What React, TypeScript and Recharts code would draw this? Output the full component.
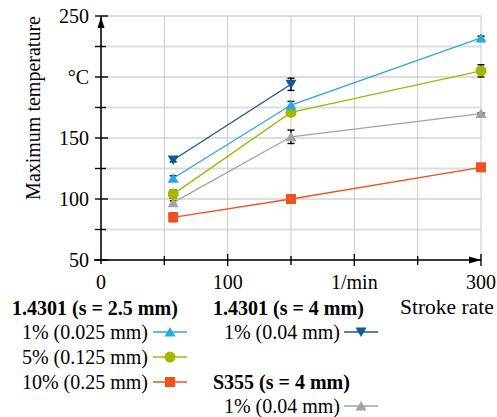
import React from "react";
import { LineChart, Line, XAxis, YAxis, CartesianGrid, ErrorBar, Label } from "recharts";

// ---- data ----
const strokeRates = [57, 150, 300];
const strokeRatesThick = [57, 150];

const s25_1pct = [117, 177, 232];
const s25_1pctErr = [2, 3, 1.5];
const s25_5pct = [104, 171, 205];
const s25_5pctErr = [3.5, 2.5, 5];
const s25_10pct = [85, 100, 126];
const s25_10pctErr = [3.5, 3, 1];
const s4_1pct = [132, 194];
const s4_1pctErr = [1.5, 5];
const s355_1pct = [97, 151, 170];
const s355_1pctErr = [1.5, 5.5, 0.5];

const xTicks = [0, 50, 100, 150, 200, 250, 300];
const xTickLabels: Record<number, string> = { 0: "0", 100: "100", 200: "1/min", 300: "300" };
const yTicks = [50, 75, 100, 125, 150, 175, 200, 225, 250];
const yTickLabels: Record<number, string> = { 50: "50", 100: "100", 150: "150", 200: "°C", 250: "250" };

const yAxisTitle = "Maximum temperature";
const xAxisTitle = "Stroke rate";

const COLORS = {
  lightBlue: "#27a9e1",
  yellow: "#a3b700",
  orange: "#f0521f",
  darkBlue: "#0c5b99",
  gray: "#a3a3a3",
};

const build = (xs: number[], ys: number[], errs: number[]) =>
  xs.map((x, i) => ({ x, y: ys[i], err: errs[i] }));

const series = [
  { name: "s355", data: build(strokeRates, s355_1pct, s355_1pctErr), color: COLORS.gray, shape: "triUp" },
  { name: "s25_10", data: build(strokeRates, s25_10pct, s25_10pctErr), color: COLORS.orange, shape: "square" },
  { name: "s25_5", data: build(strokeRates, s25_5pct, s25_5pctErr), color: COLORS.yellow, shape: "circle" },
  { name: "s25_1", data: build(strokeRates, s25_1pct, s25_1pctErr), color: COLORS.lightBlue, shape: "triUp" },
  { name: "s4_1", data: build(strokeRatesThick, s4_1pct, s4_1pctErr), color: COLORS.darkBlue, shape: "triDown" },
];

const FONT = "'Liberation Serif', 'Times New Roman', serif";
const PLOT_LEFT = 101;
const PLOT_BOTTOM = 260;

function Marker({ cx, cy, color, shape }: { cx: number; cy: number; color: string; shape: string }) {
  if (cx == null || cy == null) return null;
  if (shape === "circle") return <circle cx={cx} cy={cy} r={5.5} fill={color} />;
  if (shape === "square") return <rect x={cx - 5} y={cy - 5} width={10} height={10} fill={color} />;
  if (shape === "triDown")
    return <polygon points={`${cx - 5.5},${cy - 4.5} ${cx + 5.5},${cy - 4.5} ${cx},${cy + 5}`} fill={color} />;
  return <polygon points={`${cx - 5.5},${cy + 4.5} ${cx + 5.5},${cy + 4.5} ${cx},${cy - 5}`} fill={color} />;
}

const makeDot = (color: string, shape: string) => (props: any) => (
  <Marker key={`${props.cx}-${props.cy}`} cx={props.cx} cy={props.cy} color={color} shape={shape} />
);

function YTick(props: any) {
  const { y, payload } = props;
  const v = payload.value;
  const ax = PLOT_LEFT;
  const major = v % 50 === 0;
  return (
    <g>
      <line x1={ax - 6} x2={ax + (major ? 7 : 5)} y1={y} y2={y} stroke="#000" strokeWidth={1.4} />
      {v === 250 && (
        <polygon points={`${ax},${y + 1} ${ax - 3.5},${y + 12} ${ax + 3.5},${y + 12}`} fill="#000" />
      )}
      {v === 50 && <line x1={ax} x2={ax} y1={y} y2={y + 4} stroke="#000" strokeWidth={1.5} />}
      <text x={ax - 12} y={y} dy="0.35em" textAnchor="end" fontFamily={FONT} fontSize={20} fill="#000">
        {yTickLabels[v] ?? ""}
      </text>
    </g>
  );
}

function XTick(props: any) {
  const { x, payload } = props;
  const v = payload.value;
  const ay = PLOT_BOTTOM;
  const major = v % 100 === 0;
  return (
    <g>
      {v !== 0 && (
        <line x1={x} x2={x} y1={ay - (major ? 6 : 4)} y2={ay + (major ? 6 : 5)} stroke="#000" strokeWidth={1.4} />
      )}
      {v === 0 && <line x1={x - 7} x2={x} y1={ay} y2={ay} stroke="#000" strokeWidth={1.5} />}
      {v === 300 && <polygon points={`${x},${ay} ${x - 12},${ay - 3.5} ${x - 12},${ay + 3.5}`} fill="#000" />}
      <text x={x} y={ay + 29} textAnchor="middle" fontFamily={FONT} fontSize={20} fill="#000">
        {xTickLabels[v] ?? ""}
      </text>
    </g>
  );
}

function LegendMark({ left, top, color, shape }: { left: number; top: number; color: string; shape: string }) {
  return (
    <svg style={{ position: "absolute", left, top }} width={34} height={14}>
      <line x1={0} x2={34} y1={7} y2={7} stroke={color} strokeWidth={1.5} />
      <Marker cx={17} cy={7} color={color} shape={shape} />
    </svg>
  );
}

const txt = (s: React.CSSProperties): React.CSSProperties => ({
  position: "absolute",
  fontFamily: FONT,
  fontSize: 20,
  lineHeight: "24px",
  whiteSpace: "nowrap",
  color: "#000",
  ...s,
});

export default function App() {
  return (
    <div style={{ position: "absolute", left: 0, top: 0, width: 497, height: 417, background: "#fff" }}>
      <LineChart width={497} height={417} margin={{ top: 16, right: 16, bottom: 127, left: 0 }}>
        <CartesianGrid horizontal={true} vertical={false} stroke="#dddddd" strokeWidth={2} />
        <CartesianGrid horizontal={false} vertical={true} stroke="#c9c9c9" strokeWidth={1} />
        <XAxis
          type="number"
          dataKey="x"
          domain={[0, 300]}
          ticks={xTicks}
          height={30}
          axisLine={{ stroke: "#000", strokeWidth: 1.5 }}
          tickLine={false}
          tick={<XTick />}
          interval={0}
          allowDuplicatedCategory={false}
        />
        <YAxis
          type="number"
          domain={[50, 250]}
          ticks={yTicks}
          width={101}
          axisLine={{ stroke: "#000", strokeWidth: 1.5 }}
          tickLine={false}
          tick={<YTick />}
          interval={0}
        >
          <Label
            content={() => (
              <text
                x={40}
                y={108}
                transform="rotate(-90 40 108)"
                textAnchor="middle"
                fontFamily={FONT}
                fontSize={20}
                fill="#000"
              >
                {yAxisTitle}
              </text>
            )}
          />
        </YAxis>
        {series.map((s) => (
          <Line
            key={s.name}
            data={s.data}
            dataKey="y"
            type="linear"
            stroke={s.color}
            strokeWidth={1.3}
            dot={makeDot(s.color, s.shape)}
            activeDot={false}
            isAnimationActive={false}
          >
            <ErrorBar dataKey="err" direction="y" width={3.5} stroke="#000" strokeWidth={1.4} />
          </Line>
        ))}
      </LineChart>

      {/* legend */}
      <div style={txt({ left: 12, top: 296, fontWeight: "bold" })}>1.4301 (s = 2.5 mm)</div>
      <div style={txt({ right: 497 - 148, top: 320 })}>1% (0.025 mm)</div>
      <LegendMark left={153} top={325} color={COLORS.lightBlue} shape="triUp" />
      <div style={txt({ right: 497 - 148, top: 345 })}>5% (0.125 mm)</div>
      <LegendMark left={153} top={350} color={COLORS.yellow} shape="circle" />
      <div style={txt({ right: 497 - 148, top: 370 })}>10% (0.25 mm)</div>
      <LegendMark left={153} top={375} color={COLORS.orange} shape="square" />

      <div style={txt({ left: 213, top: 296, fontWeight: "bold" })}>1.4301 (s = 4 mm)</div>
      <div style={txt({ right: 497 - 340, top: 320 })}>1% (0.04 mm)</div>
      <LegendMark left={344} top={325} color={COLORS.darkBlue} shape="triDown" />

      <div style={txt({ left: 213, top: 370, fontWeight: "bold" })}>S355 (s = 4 mm)</div>
      <div style={txt({ right: 497 - 340, top: 394 })}>1% (0.04 mm)</div>
      <LegendMark left={344} top={399} color={COLORS.gray} shape="triUp" />

      <div style={txt({ left: 400, top: 295, fontSize: 21.5 })}>{xAxisTitle}</div>
    </div>
  );
}
